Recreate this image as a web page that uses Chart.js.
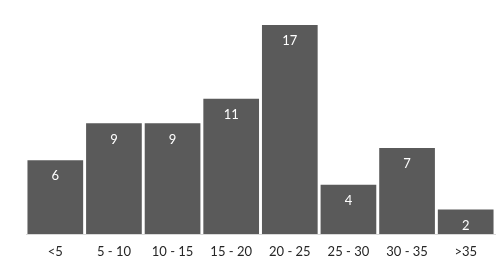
<!DOCTYPE html>
<html>
<head>
<meta charset="utf-8">
<script src="https://cdn.jsdelivr.net/npm/chart.js@4"></script>
<style>
  html, body { margin: 0; padding: 0; background: #fff; }
  #wrap { width: 501px; height: 265px; }
</style>
</head>
<body>
<div id="wrap"><canvas id="grafico" width="501" height="265"></canvas></div>
<script>
const categorias = ["<5", "5 - 10", "10 - 15", "15 - 20", "20 - 25", "25 - 30", "30 - 35", ">35"];
const valores = [6, 9, 9, 11, 17, 4, 7, 2];
const yMin = 0;
const yMax = 17;

// rotulos brancos dentro do topo de cada barra
const rotulosBarras = {
  id: "rotulosBarras",
  afterDatasetsDraw(chart) {
    const ctx = chart.ctx;
    const meta = chart.getDatasetMeta(0);
    ctx.save();
    ctx.fillStyle = "#ffffff";
    ctx.font = "13px Lato, 'Open Sans', sans-serif";
    ctx.textAlign = "center";
    ctx.textBaseline = "middle";
    meta.data.forEach((bar, i) => {
      ctx.fillText(String(valores[i]), bar.x, bar.y + 16);
    });
    ctx.restore();
  }
};

const ctx = document.getElementById("grafico").getContext("2d");
new Chart(ctx, {
  type: "bar",
  data: {
    labels: categorias,
    datasets: [{
      data: valores,
      backgroundColor: "#5a5a5a",
      borderWidth: 0,
      barPercentage: 0.95,
      categoryPercentage: 1
    }]
  },
  options: {
    responsive: false,
    animation: false,
    layout: { padding: { left: 26, right: 6, top: 25, bottom: 0 } },
    plugins: { legend: { display: false }, tooltip: { enabled: false } },
    scales: {
      x: {
        afterFit(scale) { scale.height = 31; },
        grid: { display: false, drawTicks: false },
        border: { display: true, color: "#d9d9d9", width: 1 },
        ticks: {
          color: "#262626",
          padding: 10,
          font: { family: "Lato, 'Open Sans', sans-serif", size: 13 }
        }
      },
      y: {
        display: false,
        min: yMin,
        max: yMax
      }
    }
  },
  plugins: [rotulosBarras]
});
</script>
</body>
</html>
